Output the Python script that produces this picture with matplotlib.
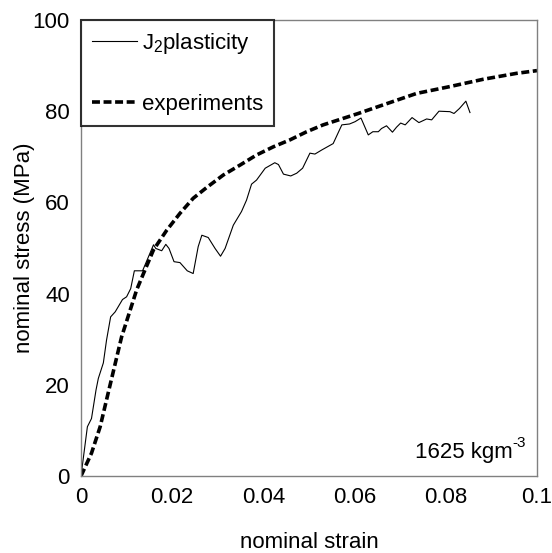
import matplotlib
matplotlib.use("Agg")
import matplotlib.pyplot as plt
from matplotlib.transforms import offset_copy

plt.rcParams['font.family'] = ['Liberation Sans', 'DejaVu Sans']
plt.rcParams['mathtext.fontset'] = 'custom'
plt.rcParams['mathtext.rm'] = 'Liberation Sans'
plt.rcParams['mathtext.it'] = 'Liberation Sans'

j2_strain = [0.0, 0.0014, 0.0023, 0.0033, 0.0038, 0.0049, 0.0056, 0.0065, 0.0075, 0.0091,
             0.0100, 0.0109, 0.0117, 0.0135, 0.0159, 0.0164, 0.0177, 0.0186, 0.0193, 0.0204,
             0.0217, 0.0233, 0.0246, 0.0257, 0.0265, 0.0279, 0.0294, 0.0306, 0.0316, 0.0334,
             0.0352, 0.0363, 0.0374, 0.0385, 0.0404, 0.0425, 0.0433, 0.0444, 0.0460, 0.0473,
             0.0486, 0.0502, 0.0513, 0.0528, 0.0553, 0.0572, 0.0589, 0.0601, 0.0614, 0.0630,
             0.0640, 0.0652, 0.0659, 0.0670, 0.0683, 0.0692, 0.0701, 0.0711, 0.0726, 0.0741,
             0.0758, 0.0769, 0.0785, 0.0809, 0.0818, 0.0830, 0.0844, 0.0853]
j2_stress = [0.0, 10.8, 12.6, 18.9, 21.4, 24.8, 29.8, 34.9, 36.0, 38.7,
             39.3, 41.1, 45.0, 45.0, 50.7, 49.9, 49.4, 50.8, 49.9, 47.0,
             46.8, 45.0, 44.4, 50.3, 52.8, 52.3, 49.9, 48.2, 49.9, 55.0,
             58.0, 60.5, 64.0, 64.9, 67.5, 68.7, 68.3, 66.2, 65.8, 66.4,
             67.5, 70.8, 70.6, 71.5, 72.9, 77.0, 77.2, 77.7, 78.5, 74.8,
             75.5, 75.5, 76.2, 76.8, 75.4, 76.5, 77.4, 77.0, 78.6, 77.5,
             78.3, 78.1, 80.0, 79.9, 79.5, 80.6, 82.2, 79.7]

exp_strain = [0.0, 0.0023, 0.0042, 0.0056, 0.0089, 0.0122, 0.0137, 0.0159, 0.0188, 0.0217,
              0.0246, 0.0276, 0.0312, 0.0349, 0.0385, 0.0422, 0.0458, 0.0495, 0.0531, 0.0568,
              0.0608, 0.0663, 0.0736, 0.0809, 0.0882, 0.0955, 0.1000]
exp_stress = [0.0, 5.0, 10.8, 16.7, 30.5, 40.8, 44.4, 49.6, 53.9, 57.6,
              60.9, 63.3, 66.0, 68.2, 70.4, 72.2, 73.7, 75.5, 77.0, 78.2,
              79.5, 81.4, 83.9, 85.4, 87.0, 88.3, 88.9]

x_ticks = [0, 0.02, 0.04, 0.06, 0.08, 0.1]
x_ticklabels = ['0', '0.02', '0.04', '0.06', '0.08', '0.1']
y_ticks = [0, 20, 40, 60, 80, 100]

fig = plt.figure(figsize=(5.52, 5.53), dpi=100)
ax = fig.add_axes([81/552, 77/553, 456/552, 456/553])

ax.plot(j2_strain, j2_stress, color='black', lw=0.8, label=r'J$_2$plasticity')
ax.plot(exp_strain, exp_stress, color='black', lw=2.6, dashes=(2.2, 1.0),
        label='experiments')

ax.set_xlim(0, 0.1)
ax.set_ylim(0, 100)
ax.set_xticks(x_ticks)
ax.set_xticklabels(x_ticklabels)
ax.set_yticks(y_ticks)
ax.tick_params(length=0, labelsize=16, pad=8)
for s in ax.spines.values():
    s.set_color('#808080')
    s.set_linewidth(1.0)

ax.set_xlabel('nominal strain', fontsize=16, labelpad=17)
ax.set_ylabel('nominal stress (MPa)', fontsize=16, labelpad=-2)

leg = ax.legend(loc='upper left', bbox_to_anchor=(0.0, 1.0), borderaxespad=0,
                fontsize=16, frameon=True, fancybox=False, edgecolor='black',
                handlelength=2.0, handletextpad=0.25, labelspacing=1.7,
                borderpad=0.5)
leg.get_frame().set_linewidth(1.5)

# density annotation: main text + small raised "-3"
sup = ax.text(0.976, 0.064, '-3', transform=ax.transAxes,
              ha='right', va='baseline', fontsize=11)
fig.canvas.draw()
sup_w = sup.get_window_extent().width
main_tr = offset_copy(ax.transAxes, fig=fig, x=-sup_w * 72 / fig.dpi, y=0, units='points')
ax.text(0.976, 0.039, '1625 kgm', transform=main_tr,
        ha='right', va='baseline', fontsize=16)

fig.savefig('out.png', dpi=100)
